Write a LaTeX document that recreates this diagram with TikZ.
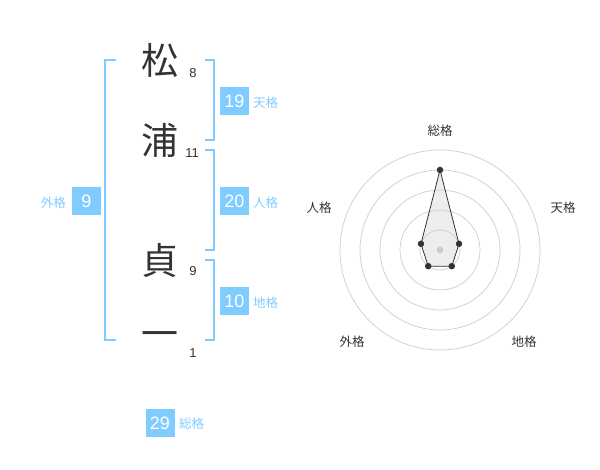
\documentclass[tikz,border=0pt]{standalone}
\usepackage{fontspec}
\setmainfont{Liberation Sans}
\newfontfamily\cjk{Noto Sans CJK JP}
\usetikzlibrary{calc}
\definecolor{lblue}{RGB}{128,204,255}
\definecolor{dtext}{RGB}{51,51,51}
\definecolor{ringc}{RGB}{204,204,204}
\tikzset{
  kanji/.style={font=\cjk\fontsize{37}{37}\selectfont, text=dtext, inner sep=0pt},
  strokes/.style={font=\fontsize{13}{13}\selectfont, text=dtext, inner sep=0pt},
  numbox/.style={fill=lblue, text=white, minimum width=29pt, minimum height=28pt, inner sep=0pt, font=\fontsize{18}{18}\selectfont},
  kaku/.style={text=lblue, font=\cjk\fontsize{12.5}{12.5}\selectfont, inner sep=0pt},
  brk/.style={draw=lblue, line width=1.6pt},
  ring/.style={draw=ringc, line width=0.7pt},
  axlabel/.style={text=dtext, font=\cjk\fontsize{12.5}{12.5}\selectfont, inner sep=0pt},
  dot/.style={circle, fill=dtext, minimum size=6.5pt, inner sep=0pt},
}
\begin{document}
\begin{tikzpicture}[x=1pt,y=-1pt]
\useasboundingbox (0,0) rectangle (600,470);
% characters
\node[kanji] (k1) at (160,60) {松};
\node[kanji] (k2) at (160,140) {浦};
\node[kanji] (k3) at (160,260) {貞};
\node[kanji] (k4) at (160,340) {一};
\node[strokes] (s1) at (193,73) {8};
\node[strokes] (s2) at (192,153) {11};
\node[strokes] (s3) at (193,271) {9};
\node[strokes] (s4) at (193,353) {1};
% brackets
\draw[brk] (116,60) -- (105,60) -- (105,340) -- (116,340);
\draw[brk] (205,60) -- (214,60) -- (214,140) -- (205,140);
\draw[brk] (205,150) -- (214,150) -- (214,250) -- (205,250);
\draw[brk] (205,260) -- (214,260) -- (214,340) -- (205,340);
% boxes
\node[numbox] (b1) at (234.5,101) {19};
\node[kaku, anchor=west] (l1) at (253,103) {天格};
\node[numbox] (b2) at (234.5,201) {20};
\node[kaku, anchor=west] (l2) at (253,203) {人格};
\node[numbox] (b3) at (234.5,301) {10};
\node[kaku, anchor=west] (l3) at (253,303) {地格};
\node[numbox] (b4) at (86.5,201) {9};
\node[kaku, anchor=east] (l4) at (66,203) {外格};
\node[numbox] (b5) at (160,423) {29};
\node[kaku, anchor=west] (l5) at (179,424) {総格};
% radar
\coordinate (c) at (440,250);
\foreach \r in {20,40,60,80,100} \draw[ring] (c) circle[radius=\r];
\node[axlabel] (a1) at (440,131) {総格};
\node[axlabel] (a2) at (563,208) {天格};
\node[axlabel] (a3) at (524,342) {地格};
\node[axlabel] (a4) at (352,342) {外格};
\node[axlabel] (a5) at (319,208) {人格};
\coordinate (p1) at ($(c)+(-90:80)$);
\coordinate (p2) at ($(c)+(-18:20)$);
\coordinate (p3) at ($(c)+(54:20)$);
\coordinate (p4) at ($(c)+(126:20)$);
\coordinate (p5) at ($(c)+(198:20)$);
\fill[ringc, opacity=0.35] (p1) -- (p2) -- (p3) -- (p4) -- (p5) -- cycle;
\draw[dtext, line width=0.8pt] (p1) -- (p2) -- (p3) -- (p4) -- (p5) -- cycle;
\node[circle, fill=ringc, minimum size=7pt, inner sep=0pt] (cd) at (c) {};
\foreach \p in {p1,p2,p3,p4,p5} \node[dot] at (\p) {};
\end{tikzpicture}
\end{document}
